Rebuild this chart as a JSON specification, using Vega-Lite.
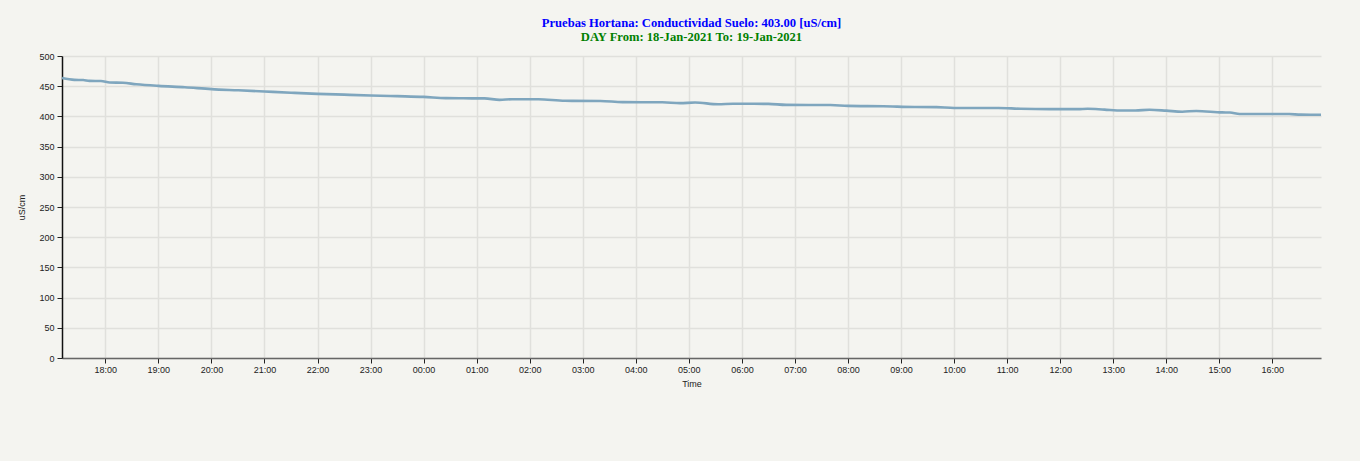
{
  "$schema": "https://vega.github.io/schema/vega-lite/v6.json",
  "width": 1259,
  "height": 302,
  "autosize": {"type": "none"},
  "padding": {"left": 62, "top": 56, "right": 39, "bottom": 103},
  "background": "#f4f4f0",
  "config": {
    "view": {"stroke": null},
    "font": "Liberation Sans"
  },
  "title": {
    "text": "Pruebas Hortana: Conductividad Suelo: 403.00 [uS/cm]",
    "subtitle": "DAY From: 18-Jan-2021 To: 19-Jan-2021",
    "font": "Liberation Serif",
    "fontSize": 12.6,
    "fontWeight": "bold",
    "color": "#0000ff",
    "subtitleFont": "Liberation Serif",
    "subtitleFontSize": 12.6,
    "subtitleFontWeight": "bold",
    "subtitleColor": "#008000",
    "subtitlePadding": 2,
    "anchor": "middle",
    "offset": 8
  },
  "data": {
    "values": [
      {"time": "2021-01-18T17:11:00", "value": 463.5},
      {"time": "2021-01-18T17:25:00", "value": 460.5},
      {"time": "2021-01-18T17:35:00", "value": 460.2},
      {"time": "2021-01-18T17:42:00", "value": 458.8},
      {"time": "2021-01-18T17:55:00", "value": 458.6},
      {"time": "2021-01-18T18:05:00", "value": 456.2},
      {"time": "2021-01-18T18:20:00", "value": 455.6},
      {"time": "2021-01-18T18:35:00", "value": 453.2},
      {"time": "2021-01-18T19:00:00", "value": 450.5},
      {"time": "2021-01-18T19:30:00", "value": 448.2},
      {"time": "2021-01-18T20:00:00", "value": 445.2},
      {"time": "2021-01-18T20:30:00", "value": 443.2},
      {"time": "2021-01-18T21:00:00", "value": 441.2},
      {"time": "2021-01-18T21:30:00", "value": 439.2},
      {"time": "2021-01-18T22:00:00", "value": 437.3},
      {"time": "2021-01-18T22:30:00", "value": 436.0},
      {"time": "2021-01-18T23:00:00", "value": 434.6},
      {"time": "2021-01-18T23:30:00", "value": 433.5},
      {"time": "2021-01-19T00:00:00", "value": 432.3},
      {"time": "2021-01-19T00:25:00", "value": 430.3},
      {"time": "2021-01-19T00:45:00", "value": 430.0},
      {"time": "2021-01-19T01:09:00", "value": 429.8},
      {"time": "2021-01-19T01:26:00", "value": 427.4},
      {"time": "2021-01-19T01:40:00", "value": 428.4},
      {"time": "2021-01-19T02:10:00", "value": 428.3},
      {"time": "2021-01-19T02:40:00", "value": 425.8},
      {"time": "2021-01-19T03:20:00", "value": 425.6},
      {"time": "2021-01-19T03:45:00", "value": 423.6},
      {"time": "2021-01-19T04:30:00", "value": 423.4},
      {"time": "2021-01-19T04:50:00", "value": 421.9},
      {"time": "2021-01-19T05:07:00", "value": 423.0},
      {"time": "2021-01-19T05:33:00", "value": 420.0},
      {"time": "2021-01-19T05:50:00", "value": 420.9},
      {"time": "2021-01-19T06:30:00", "value": 420.7},
      {"time": "2021-01-19T06:50:00", "value": 419.0},
      {"time": "2021-01-19T07:40:00", "value": 418.8},
      {"time": "2021-01-19T08:00:00", "value": 417.4},
      {"time": "2021-01-19T08:40:00", "value": 416.8},
      {"time": "2021-01-19T09:15:00", "value": 415.6},
      {"time": "2021-01-19T09:40:00", "value": 415.4},
      {"time": "2021-01-19T10:00:00", "value": 414.0},
      {"time": "2021-01-19T10:50:00", "value": 414.0},
      {"time": "2021-01-19T11:15:00", "value": 412.6},
      {"time": "2021-01-19T11:48:00", "value": 412.0},
      {"time": "2021-01-19T12:20:00", "value": 412.0},
      {"time": "2021-01-19T12:31:00", "value": 412.6},
      {"time": "2021-01-19T12:50:00", "value": 411.2},
      {"time": "2021-01-19T13:10:00", "value": 409.8},
      {"time": "2021-01-19T13:25:00", "value": 409.8},
      {"time": "2021-01-19T13:41:00", "value": 410.9},
      {"time": "2021-01-19T14:00:00", "value": 409.5},
      {"time": "2021-01-19T14:18:00", "value": 407.8},
      {"time": "2021-01-19T14:34:00", "value": 409.0},
      {"time": "2021-01-19T15:03:00", "value": 406.6},
      {"time": "2021-01-19T15:12:00", "value": 406.4},
      {"time": "2021-01-19T15:23:00", "value": 404.0},
      {"time": "2021-01-19T16:19:00", "value": 403.9},
      {"time": "2021-01-19T16:32:00", "value": 402.9},
      {"time": "2021-01-19T16:55:00", "value": 402.8}
    ]
  },
  "mark": {"type": "line", "color": "#7fa6be", "strokeWidth": 2.6, "interpolate": "monotone"},
  "encoding": {
    "x": {
      "field": "time",
      "type": "temporal",
      "title": "Time",
      "scale": {"nice": false},
      "axis": {
        "format": "%H:%M",
        "tickCount": 24,
        "labelFontSize": 9,
        "labelColor": "#222",
        "labelPadding": 2,
        "titleFontSize": 9,
        "titleFontWeight": "normal",
        "titleColor": "#222",
        "titlePadding": 5,
        "domainColor": "#666",
        "domainWidth": 1.5,
        "tickColor": "#222",
        "tickSize": 5,
        "gridColor": "#e0e0dc",
        "gridWidth": 1.5,
        "labelFlush": false
      }
    },
    "y": {
      "field": "value",
      "type": "quantitative",
      "title": "uS/cm",
      "scale": {"domain": [0, 500], "nice": false},
      "axis": {
        "values": [0, 50, 100, 150, 200, 250, 300, 350, 400, 450, 500],
        "labelFontSize": 9,
        "labelColor": "#222",
        "labelPadding": 3,
        "titleFontSize": 9,
        "titleFontWeight": "normal",
        "titleColor": "#222",
        "titlePadding": 12,
        "domainColor": "#111",
        "domainWidth": 1.5,
        "tickColor": "#222",
        "tickSize": 5,
        "gridColor": "#e0e0dc",
        "gridWidth": 1.5
      }
    }
  }
}
